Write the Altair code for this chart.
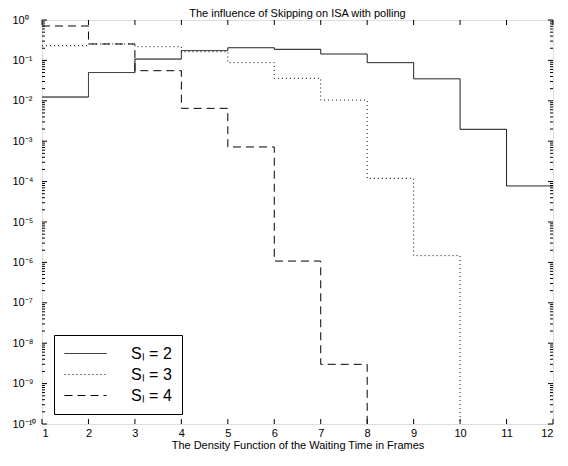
import json
import altair as alt
import pandas as pd

# ---- data (value on each frame interval [k, k+1]) ----
x_start = list(range(1, 13))
s2_vals = [0.0124, 0.050, 0.108, 0.175, 0.206, 0.188, 0.144, 0.088, 0.035, 0.00197, 7.8e-5]
s3_vals = [0.231, 0.255, 0.218, 0.164, 0.088, 0.036, 0.0104, 1.2e-4, 1.47e-6]
s4_vals = [0.71, 0.255, 0.0556, 0.0065, 7.2e-4, 1.08e-6, 3.0e-9]
series_labels = ["S\u2097 = 2", "S\u2097 = 3", "S\u2097 = 4"]
FLOOR = 1e-10

y_major = [10.0 ** (-e) for e in range(0, 11)]
y_labels = ["10\u2070", "10\u207b\u00b9", "10\u207b\u00b2", "10\u207b\u00b3", "10\u207b\u2074",
            "10\u207b\u2075", "10\u207b\u2076", "10\u207b\u2077", "10\u207b\u2078",
            "10\u207b\u2079", "10\u207b\u00b9\u2070"]
y_minor = [k * 10.0 ** e for e in range(-10, 0) for k in range(2, 10)]
x_ticks = list(range(1, 13))

# ---- build step tables ----
rows = []
def add(vals, label, end_value):
    for i, v in enumerate(vals):
        rows.append({"x": x_start[i], "y": v, "S": label})
    rows.append({"x": x_start[len(vals)], "y": end_value, "S": label})

add(s2_vals, series_labels[0], s2_vals[-1])
add(s3_vals, series_labels[1], FLOOR)
add(s4_vals, series_labels[2], FLOOR)
df = pd.DataFrame(rows)

W, H = 511, 404
FONT = "Liberation Sans"

xscale = alt.Scale(domain=[1, 12], nice=False, zero=False)
yscale = alt.Scale(type="log", domain=[1e-10, 1], nice=False)

label_expr = json.dumps(y_labels, ensure_ascii=False) + "[round(-log(datum.value)/LN10)]"

x_axis = alt.Axis(values=x_ticks, title="The Density Function of the Waiting Time in Frames",
                  ticks=False, domain=False, grid=False, labelFontSize=11,
                  labelFont=FONT, labelPadding=3, titleFont=FONT, titleFontSize=11,
                  titleFontWeight="normal", titlePadding=1, labelColor="black",
                  titleColor="black", format="d")
y_axis = alt.Axis(values=y_major, labelExpr=label_expr, title=None, ticks=False,
                  domain=False, grid=False, labelFontSize=11, labelFont=FONT,
                  labelAlign="left", labelPadding=30, labelColor="black")

lines = alt.Chart(df).mark_line(
    color="black", strokeWidth=1, interpolate="step-after", clip=True
).encode(
    x=alt.X("x:Q", scale=xscale, axis=x_axis),
    y=alt.Y("y:Q", scale=yscale, axis=y_axis),
    strokeDash=alt.StrokeDash(
        "S:N",
        scale=alt.Scale(domain=series_labels, range=[[1, 0], [1, 3], [8, 5]]),
        legend=alt.Legend(orient="none", legendX=12, legendY=315, title=None,
                          symbolType="stroke", symbolSize=1764, symbolStrokeWidth=1,
                          symbolStrokeColor="black", labelFontSize=16, labelFont=FONT,
                          labelColor="black", labelOffset=24, padding=10,
                          clipHeight=17, strokeColor="black", fillColor="white",
                          rowPadding=4, cornerRadius=0),
    ),
)

ymaj_df = pd.DataFrame({"y": y_major})
ymin_df = pd.DataFrame({"y": y_minor})
xt_df = pd.DataFrame({"x": x_ticks})

def ytick(data, x0, x1):
    return alt.Chart(data).mark_rule(color="black", strokeWidth=1).encode(
        y=alt.Y("y:Q", scale=yscale, axis=y_axis), x=alt.value(x0), x2=alt.value(x1))

def xtick(y0, y1):
    return alt.Chart(xt_df).mark_rule(color="black", strokeWidth=1).encode(
        x=alt.X("x:Q", scale=xscale, axis=x_axis), y=alt.value(y0), y2=alt.value(y1))

ticks = [
    ytick(ymaj_df, 0, 5), ytick(ymaj_df, W, W - 5),
    ytick(ymin_df, 0, 3), ytick(ymin_df, W, W - 3),
    xtick(H, H - 5), xtick(0, 5),
]

chart = alt.layer(lines, *ticks).properties(
    width=W, height=H,
    title=alt.Title("The influence of Skipping on ISA with polling", fontSize=11,
                    fontWeight="normal", font=FONT, offset=3, dy=8, frame="group",
                    color="black"),
    padding={"left": 34, "top": 12, "right": 7, "bottom": 34},
    autosize="none",
).configure_view(stroke="black", strokeWidth=1).configure(background="white")

chart.save("out.html", embed_options={"renderer": "svg", "actions": False})
